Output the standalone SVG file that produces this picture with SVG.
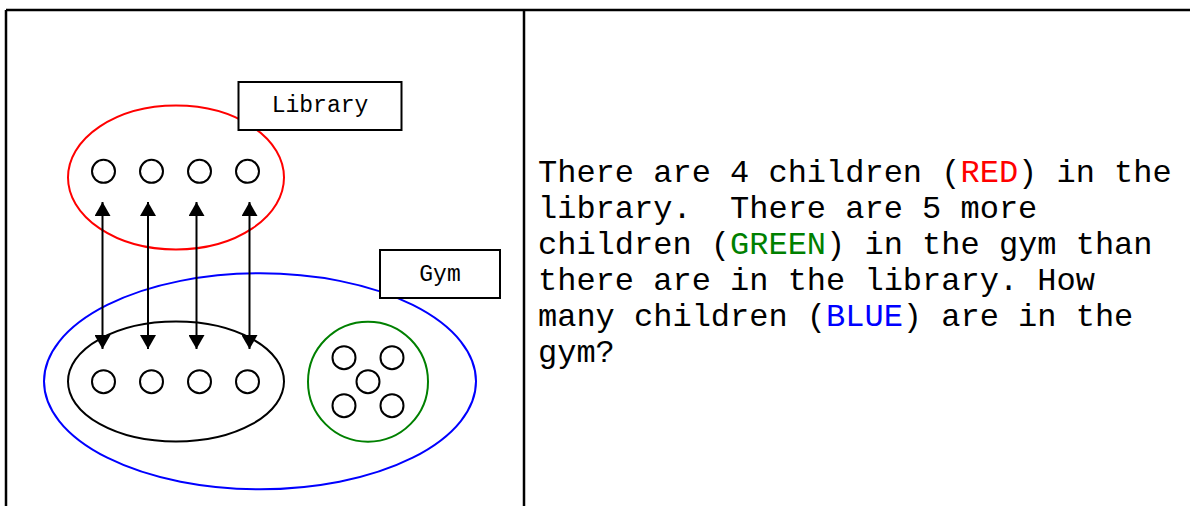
<svg xmlns="http://www.w3.org/2000/svg" width="1190" height="506" viewBox="0 0 1190 506">
<defs>
<marker id="ah" viewBox="0 0 14 16" refX="14" refY="8" markerWidth="14" markerHeight="16" markerUnits="userSpaceOnUse" orient="auto-start-reverse">
<path d="M0,0 L14,8 L0,16 Z" fill="#000"/>
</marker>
</defs>
<style>
.kid{fill:none;stroke:#000;stroke-width:2}
.lbl{fill:#fff;stroke:#000;stroke-width:2}
.lt{font-family:"Liberation Mono","Courier New",monospace;font-size:23px;fill:#000;text-anchor:middle}
.body{font-family:"Liberation Mono","Courier New",monospace;font-size:32px;fill:#000}
.conn{stroke:#000;stroke-width:2;fill:none}
</style>
<rect width="1190" height="506" fill="#fff"/>
<g id="frame" stroke="#000" stroke-width="2.5" fill="none">
<line x1="6" y1="10" x2="1190" y2="10"/>
<line x1="6" y1="10" x2="6" y2="506"/>
<line x1="524" y1="10" x2="524" y2="506"/>
</g>
<g id="library-set">
<ellipse cx="176" cy="177.5" rx="108" ry="72" fill="none" stroke="#f00" stroke-width="2"/>
<circle class="kid" cx="103.5" cy="171.3" r="11.5"/>
<circle class="kid" cx="151.5" cy="171.3" r="11.5"/>
<circle class="kid" cx="199.5" cy="171.3" r="11.5"/>
<circle class="kid" cx="247.5" cy="171.3" r="11.5"/>
</g>
<g id="library-label">
<rect class="lbl" x="238.5" y="82" width="163" height="48"/>
<text class="lt" x="320" y="112">Library</text>
</g>
<g id="gym-set">
<ellipse cx="260" cy="381.3" rx="216" ry="108" fill="none" stroke="#00f" stroke-width="2"/>
</g>
<g id="gym-label">
<rect class="lbl" x="380" y="250" width="120" height="48"/>
<text class="lt" x="440" y="281">Gym</text>
</g>
<g id="matched-set">
<ellipse cx="176" cy="381.5" rx="108" ry="60" fill="none" stroke="#000" stroke-width="2"/>
<circle class="kid" cx="103.5" cy="381.7" r="11.5"/>
<circle class="kid" cx="151.5" cy="381.7" r="11.5"/>
<circle class="kid" cx="199.5" cy="381.7" r="11.5"/>
<circle class="kid" cx="247.5" cy="381.7" r="11.5"/>
</g>
<g id="extra-set">
<circle cx="368" cy="381.7" r="60" fill="none" stroke="#008000" stroke-width="2"/>
<circle class="kid" cx="344" cy="357.7" r="11.5"/>
<circle class="kid" cx="392" cy="357.7" r="11.5"/>
<circle class="kid" cx="368" cy="381.7" r="11.5"/>
<circle class="kid" cx="344" cy="405.7" r="11.5"/>
<circle class="kid" cx="392" cy="405.7" r="11.5"/>
</g>
<g id="connectors">
<line class="conn" x1="102.5" y1="202" x2="102.5" y2="349" marker-start="url(#ah)" marker-end="url(#ah)"/>
<line class="conn" x1="148" y1="202" x2="148" y2="349" marker-start="url(#ah)" marker-end="url(#ah)"/>
<line class="conn" x1="196.5" y1="202" x2="196.5" y2="349" marker-start="url(#ah)" marker-end="url(#ah)"/>
<line class="conn" x1="249.5" y1="202" x2="249.5" y2="349" marker-start="url(#ah)" marker-end="url(#ah)"/>
</g>
<g id="problem-text" class="body">
<text x="538" y="182">There are 4 children (<tspan fill="#f00">RED</tspan>) in the</text>
<text x="538" y="218" xml:space="preserve">library.  There are 5 more</text>
<text x="538" y="254">children (<tspan fill="#008000">GREEN</tspan>) in the gym than</text>
<text x="538" y="290">there are in the library. How</text>
<text x="538" y="326">many children (<tspan fill="#00f">BLUE</tspan>) are in the</text>
<text x="538" y="362">gym?</text>
</g>
</svg>
